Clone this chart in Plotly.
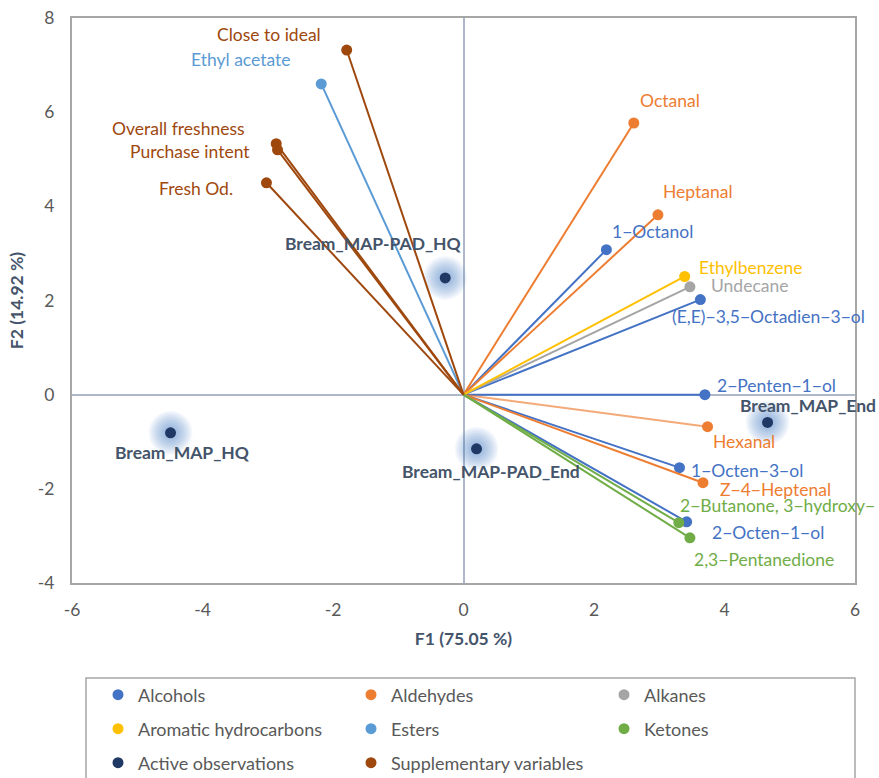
import plotly.graph_objects as go

# ---- PCA biplot data (F1 / F2 coordinates) ----
alcohol_names = ["1−Octanol", "(E,E)−3,5−Octadien−3−ol", "2−Penten−1−ol", "1−Octen−3−ol", "2−Octen−1−ol"]
alcohol_f1 = [2.19, 3.63, 3.70, 3.31, 3.42]
alcohol_f2 = [3.08, 2.02, 0.00, -1.55, -2.70]

aldehyde_names = ["Octanal", "Heptanal", "Hexanal", "Z−4−Heptenal"]
aldehyde_f1 = [2.61, 2.98, 3.74, 3.67]
aldehyde_f2 = [5.77, 3.82, -0.68, -1.87]

alkane_names = ["Undecane"]
alkane_f1 = [3.47]
alkane_f2 = [2.29]

aromatic_names = ["Ethylbenzene"]
aromatic_f1 = [3.39]
aromatic_f2 = [2.51]

ester_names = ["Ethyl acetate"]
ester_f1 = [-2.18]
ester_f2 = [6.60]

ketone_names = ["2−Butanone, 3−hydroxy−", "2,3−Pentanedione"]
ketone_f1 = [3.30, 3.47]
ketone_f2 = [-2.72, -3.04]

obs_names = ["Bream_MAP-PAD_HQ", "Bream_MAP_End", "Bream_MAP_HQ", "Bream_MAP-PAD_End"]
obs_f1 = [-0.28, 4.66, -4.49, 0.20]
obs_f2 = [2.48, -0.59, -0.81, -1.15]

supp_names = ["Close to ideal", "Overall freshness", "Purchase intent", "Fresh Od."]
supp_f1 = [-1.79, -2.87, -2.85, -3.02]
supp_f2 = [7.32, 5.33, 5.20, 4.50]

x_tick_vals = [-6, -4, -2, 0, 2, 4, 6]
x_tick_text = ["-6", "-4", "-2", "0", "2", "4", "6"]
y_tick_vals = [-4, -2, 0, 2, 4, 6, 8]
y_tick_text = ["-4", "-2", "0", "2", "4", "6", "8"]

x_title = "F1 (75.05 %)"
y_title = "F2 (14.92 %)"

# ---- styling ----
FONT = "Lato"
FS = 17.5
LEG_FS = 18
TICK_COLOR = "#595959"
OBS_TEXT = "#44546A"

W, H = 879, 778
ML, MR, MT, MB = 72, 24, 18, 195
PW, PH = W - ML - MR, H - MT - MB

# label placement: (xanchor, xshift px, yshift px)
label_pos = {
    "1−Octanol": ("left", 4, 18),
    "(E,E)−3,5−Octadien−3−ol": ("left", -30, -17),
    "2−Penten−1−ol": ("left", 10, 9),
    "1−Octen−3−ol": ("left", 10, -3),
    "2−Octen−1−ol": ("left", 23, -11),
    "Octanal": ("left", 4, 23),
    "Heptanal": ("left", 3, 23),
    "Hexanal": ("left", 3, -15),
    "Z−4−Heptenal": ("left", 15, -7),
    "Undecane": ("left", 19, 1),
    "Ethylbenzene": ("left", 12, 9),
    "Ethyl acetate": ("right", -28, 24),
    "2−Butanone, 3−hydroxy−": ("left", -1, 17),
    "2,3−Pentanedione": ("left", 2, -22),
    "Close to ideal": ("right", -24, 16),
    "Overall freshness": ("right", -29, 15),
    "Purchase intent": ("right", -26, -2),
    "Fresh Od.": ("right", -31, -6),
    "Bream_MAP-PAD_HQ": ("center", -72, 34),
    "Bream_MAP_End": ("center", 40, 17),
    "Bream_MAP_HQ": ("center", 12, -20),
    "Bream_MAP-PAD_End": ("center", 14, -23),
}

# per-line opacity for vectors that are drawn lighter
line_opacity = {"Hexanal": 0.65}

vector_groups = [
    ("Alcohols", alcohol_names, alcohol_f1, alcohol_f2, "#4472C4", "legend"),
    ("Aldehydes", aldehyde_names, aldehyde_f1, aldehyde_f2, "#ED7D31", "legend"),
    ("Alkanes", alkane_names, alkane_f1, alkane_f2, "#A5A5A5", "legend"),
    ("Aromatic hydrocarbons", aromatic_names, aromatic_f1, aromatic_f2, "#FFC000", "legend2"),
    ("Esters", ester_names, ester_f1, ester_f2, "#5B9BD5", "legend2"),
    ("Ketones", ketone_names, ketone_f1, ketone_f2, "#70AD47", "legend2"),
]
supp_color = "#9E480E"
obs_color = "#203864"

fig = go.Figure()

# soft glow under the observation points, built from stacked translucent discs
for size in range(44, 12, -3):
    fig.add_trace(go.Scatter(
        x=obs_f1, y=obs_f2, mode="markers", showlegend=False, hoverinfo="skip",
        marker=dict(size=size, color="rgba(68,114,196,0.05)", line=dict(width=0)),
    ))

annotations = []


def add_vectors(name, names, f1, f2, color, legend):
    # one line from the origin to each variable point
    for n, x, y in zip(names, f1, f2):
        fig.add_trace(go.Scatter(
            x=[0, x], y=[0, y], mode="lines", showlegend=False, hoverinfo="skip",
            line=dict(color=color, width=2), opacity=line_opacity.get(n, 1.0),
        ))
    fig.add_trace(go.Scatter(
        x=f1, y=f2, mode="markers", name=name, legend=legend, text=names,
        marker=dict(size=11, color=color, line=dict(width=0)),
    ))
    for n, x, y in zip(names, f1, f2):
        xa, xs, ys = label_pos[n]
        annotations.append(dict(
            x=x, y=y, xref="x", yref="y", text=n, showarrow=False,
            xanchor=xa, yanchor="middle", xshift=xs, yshift=ys,
            font=dict(family=FONT, size=FS, color=color),
        ))


for g in vector_groups:
    add_vectors(*g)

add_vectors("Supplementary variables", supp_names, supp_f1, supp_f2, supp_color, "legend3")

# active observations: legend entry ahead of supplementary variables
fig.add_trace(go.Scatter(
    x=obs_f1, y=obs_f2, mode="markers", name="Active observations", legend="legend3",
    text=obs_names, legendrank=1,
    marker=dict(size=11, color=obs_color, line=dict(width=0)),
))
for n, x, y in zip(obs_names, obs_f1, obs_f2):
    xa, xs, ys = label_pos[n]
    annotations.append(dict(
        x=x, y=y, xref="x", yref="y", text="<b>" + n + "</b>", showarrow=False,
        xanchor=xa, yanchor="middle", xshift=xs, yshift=ys,
        font=dict(family=FONT, size=FS, color=OBS_TEXT),
    ))


def px_x(px):
    return (px - ML) / PW


def px_y(py):
    return (H - MB - py) / PH


legend_common = dict(
    orientation="h", xanchor="left", yanchor="middle",
    bgcolor="rgba(0,0,0,0)", borderwidth=0,
    font=dict(family=FONT, size=LEG_FS, color=TICK_COLOR),
    entrywidth=208, entrywidthmode="pixels", itemwidth=30,
    traceorder="normal",
)
legend_x = px_x(98)

fig.update_layout(
    width=W, height=H,
    margin=dict(l=ML, r=MR, t=MT, b=MB, autoexpand=False),
    paper_bgcolor="white", plot_bgcolor="white",
    font=dict(family=FONT, size=FS, color=TICK_COLOR),
    annotations=annotations,
    legend=dict(x=legend_x, y=px_y(695), **legend_common),
    legend2=dict(x=legend_x, y=px_y(729), **legend_common),
    legend3=dict(x=legend_x, y=px_y(763), **legend_common),
    shapes=[dict(
        type="rect", xref="paper", yref="paper",
        x0=px_x(86), x1=px_x(855), y0=px_y(800), y1=px_y(678),
        line=dict(color="#A6A6A6", width=1.5), fillcolor="rgba(0,0,0,0)", layer="below",
    )],
    xaxis=dict(
        range=[-6, 6], tickvals=x_tick_vals, ticktext=x_tick_text,
        showgrid=False, zeroline=True, zerolinecolor="#ADB9CA", zerolinewidth=1.5,
        showline=True, mirror=True, linecolor="#A6A6A6", linewidth=2,
        ticks="", ticklabelstandoff=10,
        tickfont=dict(family=FONT, size=FS, color=TICK_COLOR),
        title=dict(text="<b>" + x_title + "</b>", standoff=14,
                   font=dict(family=FONT, size=FS, color=OBS_TEXT)),
    ),
    yaxis=dict(
        range=[-4, 8], tickvals=y_tick_vals, ticktext=y_tick_text,
        showgrid=False, zeroline=True, zerolinecolor="#ADB9CA", zerolinewidth=1.5,
        showline=True, mirror=True, linecolor="#A6A6A6", linewidth=2,
        ticks="", ticklabelstandoff=12,
        tickfont=dict(family=FONT, size=FS, color=TICK_COLOR),
        title=dict(text="<b>" + y_title + "</b>", standoff=10,
                   font=dict(family=FONT, size=FS, color=OBS_TEXT)),
    ),
    hovermode="closest",
)

fig.write_html("out.html")
